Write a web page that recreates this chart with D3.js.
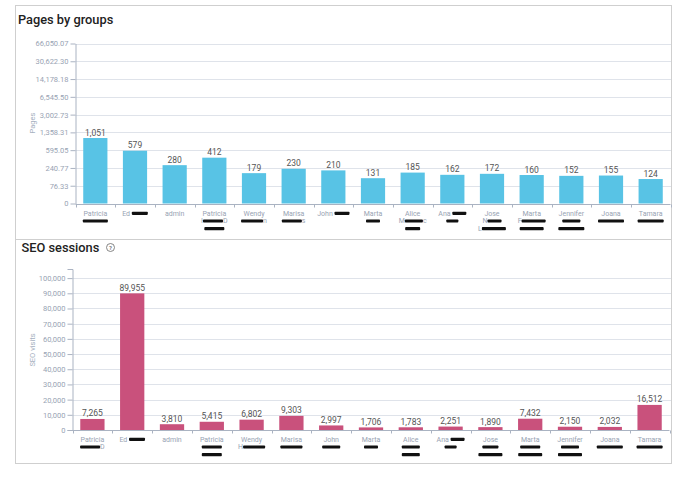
<!DOCTYPE html>
<html><head><meta charset="utf-8">
<script src="https://cdn.jsdelivr.net/npm/d3@7"></script>
<style>
body{margin:0;background:#fff;}
svg text{font-family:Roboto,"Liberation Sans",sans-serif;}
</style>
</head><body>
<svg id="c" width="678" height="484"></svg>
<script>
// ---------- data ----------
const categories = ["Patricia","Ed","admin","Patricia 2","Wendy","Marisa","John","Marta","Alice","Ana","Jose","Marta 2","Jennifer","Joana","Tamara"];
const pagesValues = [1051, 579, 280, 412, 179, 230, 210, 131, 185, 162, 172, 160, 152, 155, 124];
const seoValues = [7265, 89955, 3810, 5415, 6802, 9303, 2997, 1706, 1783, 2251, 1890, 7432, 2150, 2032, 16512];
const pagesTicks = [0, 76.33, 240.77, 595.05, 1358.31, 3002.73, 6545.50, 14178.18, 30622.30, 66050.07];
const seoTicks = [0, 10000, 20000, 30000, 40000, 50000, 60000, 70000, 80000, 90000, 100000];
// label lines: strings are visible text, numbers are redacted (blacked-out) blocks of that width
const pagesLabels = [
  [["Patricia"],[25]], [["Ed ",16]], [["admin"]], [["Patricia"],["I",20,"D"],[20]],
  [["Wendy"],[22,"n"]], [["Marisa"],[20,"s"]], [["John ",15]], [["Marta"],[14]],
  [["Alice"],["M",18,"c"],[15]], [["Ana ",14],[12]], [["Jose"],["N",14],["L",24]],
  [["Marta"],["F",24],[24]], [["Jennifer"],[18],[26]], [["Joana"],[26]], [["Tamara"],[26]]
];
const seoLabels = [
  [["Patricia"],[20,"D"]], [["Ed ",16]], [["admin"]], [["Patricia"],[20],[20]],
  [["Wendy"],["H",22]], [["Marisa"],[22]], [["John"],[18]], [["Marta"],[14]],
  [["Alice"],[18],[18]], [["Ana ",14],[12]], [["Jose"],[16],[24]],
  [["Marta"],[20],[24]], [["Jennifer"],[18],[24]], [["Joana"],[26]], [["Tamara"],[26]]
];

// ---------- styles ----------
const svg = d3.select("#c");
const gridColor = "#dfe3ea", axisColor = "#aab3c2", tickText = "#98a3b3";

function panel(y0, y1){
  svg.append("rect").attr("x",15.5).attr("y",y0+0.5).attr("width",656).attr("height",y1-y0)
    .attr("fill","none").attr("stroke","#cfcfcf");
}
panel(5, 239);
panel(239, 463);

function drawChart(o){
  const x = d3.scaleBand().domain(categories).range(o.xr).paddingInner(0.39).paddingOuter(0.195);
  const y = o.y;
  const g = svg.append("g");
  // grid
  g.selectAll(".grid").data(o.ticks.filter(d=>d!==0)).join("line")
    .attr("x1",o.xr[0]).attr("x2",671).attr("y1",d=>Math.round(y(d))+0.5).attr("y2",d=>Math.round(y(d))+0.5)
    .attr("stroke",gridColor).attr("stroke-width",1);
  // y axis
  const ya = g.append("g").attr("transform",`translate(${o.xr[0]},0)`)
    .call(d3.axisLeft(y).tickValues(o.ticks).tickFormat(o.fmt).tickSize(5).tickSizeOuter(o.outer).tickPadding(2));
  ya.select(".domain").attr("stroke",axisColor);
  ya.selectAll(".tick line").attr("stroke",axisColor);
  ya.selectAll(".tick text").attr("fill",tickText).style("font-size","7.5px");
  // axis title
  g.append("text").attr("transform",`translate(${o.ylx},${o.yly}) rotate(-90)`)
    .attr("text-anchor","middle").attr("fill","#a5b0c0").style("font-size","7.5px").text(o.ytitle);
  // bars
  g.selectAll(".bar").data(o.values).join("rect")
    .attr("x",(d,i)=>x(categories[i])).attr("width",x.bandwidth())
    .attr("y",d=>y(d)).attr("height",d=>y(0)-y(d)).attr("fill",o.color);
  // value labels
  g.selectAll(".val").data(o.values).join("text")
    .attr("x",(d,i)=>x(categories[i])+x.bandwidth()/2).attr("y",d=>y(d)-2.5)
    .attr("text-anchor","middle").attr("fill","#555").style("font-size","8.5px")
    .text(d=>d3.format(",")(d));
  // x axis
  const y0 = Math.round(y(0))+0.5;
  g.append("line").attr("x1",o.xr[0]).attr("x2",o.xr[1]).attr("y1",y0).attr("y2",y0).attr("stroke",axisColor);
  const step = x.step();
  g.selectAll(".xt").data(d3.range(categories.length+1)).join("line")
    .attr("x1",i=>Math.round(o.xr[0]+i*step)+0.5).attr("x2",i=>Math.round(o.xr[0]+i*step)+0.5)
    .attr("y1",y0).attr("y2",y0+3).attr("stroke",axisColor);
  // x labels
  o.labels.forEach((lines,i)=>{
    const cx = x(categories[i])+x.bandwidth()/2;
    lines.forEach((parts,j)=>{
      const lg = g.append("g");
      let cur = 0;
      const by = y0 + 11 + j*7.7;
      parts.forEach(p=>{
        if(typeof p === "string"){
          const t = lg.append("text").attr("x",cur).attr("y",by).attr("fill",tickText)
            .style("font-size","7px").style("white-space","pre").attr("xml:space","preserve").text(p);
          cur += t.node().getComputedTextLength();
        } else {
          lg.append("rect").attr("x",cur).attr("y",by-3.8).attr("width",p).attr("height",3.2)
            .attr("rx",0.8).attr("fill","#111");
          cur += p;
        }
      });
      lg.attr("transform",`translate(${cx-cur/2},0)`);
    });
  });
}

const pagesY = d3.scaleSymlog().constant(66050.07/999).domain([0,66050.07]).range([203.5,43.5]);
const seoY = d3.scaleLinear().domain([0,106000]).range([430,269]);

drawChart({xr:[75.5,670.5], y:pagesY, ticks:pagesTicks, values:pagesValues, labels:pagesLabels,
  color:"#58c3e5", fmt:d=>d===0?"0":d3.format(",.2f")(d), outer:0, ytitle:"Pages", ylx:35, yly:123});
drawChart({xr:[72.5,669.5], y:seoY, ticks:seoTicks, values:seoValues, labels:seoLabels,
  color:"#c9517c", fmt:d3.format(","), outer:5, ytitle:"SEO visits", ylx:35, yly:350});

// titles
svg.append("text").attr("x",18).attr("y",23.5).attr("fill","#222").style("font-size","12.8px").style("font-weight","500").text("Pages by groups");
svg.append("text").attr("x",21.5).attr("y",252).attr("fill","#222").style("font-size","12.8px").style("font-weight","500").text("SEO sessions");
const hq = svg.append("g").attr("transform","translate(110.5,247.5)");
hq.append("circle").attr("r",4).attr("fill","none").attr("stroke","#777").attr("stroke-width",0.9);
hq.append("text").attr("y",2.3).attr("text-anchor","middle").attr("fill","#777").style("font-size","6px").style("font-weight","bold").text("?");
</script>
</body></html>
